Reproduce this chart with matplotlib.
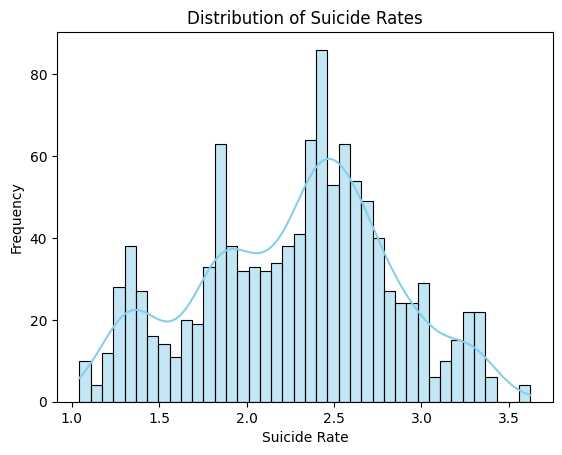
import numpy as np
import matplotlib
matplotlib.use("Agg")
import matplotlib.pyplot as plt
import seaborn as sns

# Histogram of suicide rates: 40 bins between the data min and max
rate_min = 1.044
rate_max = 3.623
counts = [10, 4, 12, 28, 38, 27, 16, 14, 11, 20,
          19, 33, 63, 38, 32, 33, 32, 34, 38, 41,
          64, 86, 53, 63, 54, 49, 40, 27, 24, 24,
          29, 6, 10, 15, 22, 22, 6, 0, 0, 4]
title = "Distribution of Suicide Rates"
xlabel = "Suicide Rate"
ylabel = "Frequency"

edges = np.linspace(rate_min, rate_max, len(counts) + 1)
centers = (edges[:-1] + edges[1:]) / 2
samples = np.repeat(centers, counts)

fig, ax = plt.subplots(figsize=(6.4, 4.8), dpi=100)
sns.histplot(x=samples, bins=edges, kde=True, color="skyblue",
             edgecolor="black", ax=ax,
             kde_kws=dict(cut=3, clip=(rate_min, rate_max)))
ax.set_title(title)
ax.set_xlabel(xlabel)
ax.set_ylabel(ylabel)
fig.savefig("out.png", dpi=100, bbox_inches="tight")
